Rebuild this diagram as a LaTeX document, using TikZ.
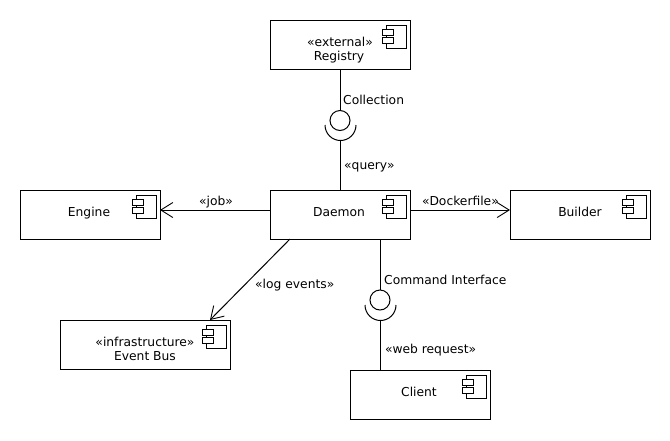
\documentclass[tikz,border=0pt]{standalone}
\usepackage{fontspec}
\setmainfont{DejaVu Sans}
\usetikzlibrary{arrows.meta}
\tikzset{
  x=1pt,y=-1pt,
  conn/.style={draw=black,line width=1pt},
  dep/.style={conn,-{Straight Barb[length=12pt,width=15pt,line width=0.9pt]}},
  box/.style={draw=black,line width=1pt,fill=white,minimum height=49pt,inner sep=0pt,outer sep=0pt},
  wbox/.style={box,minimum width=140pt},
  bbox/.style={box,minimum width=170pt},
  txt/.style={font=\fontsize{12.3}{15}\selectfont,inner sep=0pt,text=black,anchor=base},
  lab/.style={txt,anchor=base west},
  ball/.style={circle,draw=black,line width=1pt,minimum size=20pt,inner sep=0pt,outer sep=0pt},
  compicon/.pic={
    \draw[line width=1pt,fill=white] (-24,5) rectangle (-4,28);
    \draw[line width=1pt,fill=white] (-28,9) rectangle (-17,15.5);
    \draw[line width=1pt,fill=white] (-28,17.5) rectangle (-17,23.5);
  }
}
\begin{document}
\begin{tikzpicture}
\useasboundingbox[fill=white] (0,0) rectangle (670,440);
% components
\node[wbox] (registry) at (340,44.5) {};
\node[wbox] (engine) at (90,214.5) {};
\node[wbox] (daemon) at (340,214.5) {};
\node[wbox] (builder) at (580,214.5) {};
\node[bbox] (eventbus) at (145,344.5) {};
\node[wbox] (client) at (420,394.5) {};
\foreach \n in {registry,engine,daemon,builder,eventbus,client}
  \pic at (\n.north east) {compicon};
\node[txt] (registrytxta) at (340,46) {«external»};
\node[txt] (registrytxtb) at (339,60.5) {Registry};
\node[txt] (enginetxt) at (89,216) {Engine};
\node[txt] (daemontxt) at (339,216) {Daemon};
\node[txt] (buildertxt) at (580,216) {Builder};
\node[txt] (eventbustxta) at (145,346) {«infrastructure»};
\node[txt] (eventbustxtb) at (145,360.5) {Event Bus};
\node[txt] (clienttxt) at (419,396) {Client};
% lollipop top
\node[ball] (ballA) at (340,120.5) {};
\coordinate (sockA) at (340,140.6);
\draw[conn] (325,125) arc[start angle=180,end angle=0,radius=15.5,y=1pt];
\draw[conn] (registry.south) -- (ballA.north);
\draw[conn] (sockA) -- (daemon.north);
% lollipop bottom
\node[ball] (ballB) at (380,300) {};
\coordinate (sockB) at (380,320.6);
\draw[conn] (365,305) arc[start angle=180,end angle=0,radius=15.5,y=1pt];
\draw[conn] ([xshift=40pt]daemon.south) -- (ballB.north);
\draw[conn] (sockB) -- ([xshift=-40pt]client.north);
% dependencies
\draw[dep] ([yshift=4.5pt]daemon.west) -- ([yshift=4.5pt]engine.east);
\draw[dep] ([yshift=4.5pt]daemon.east) -- ([yshift=4.5pt]builder.west);
\draw[dep] ([xshift=-50pt]daemon.south) -- ([xshift=65pt]eventbus.north);
% labels
\node[lab] (l1) at (343,104) {Collection};
\node[lab] (l2) at (344,169) {«query»};
\node[txt] (l3) at (216,205) {«job»};
\node[txt] (l4) at (460.5,205) {«Dockerfile»};
\node[lab] (l5) at (255,288) {«log events»};
\node[lab] (l6) at (384,284) {Command Interface};
\node[lab] (l7) at (385,353) {«web request»};
\end{tikzpicture}
\end{document}
